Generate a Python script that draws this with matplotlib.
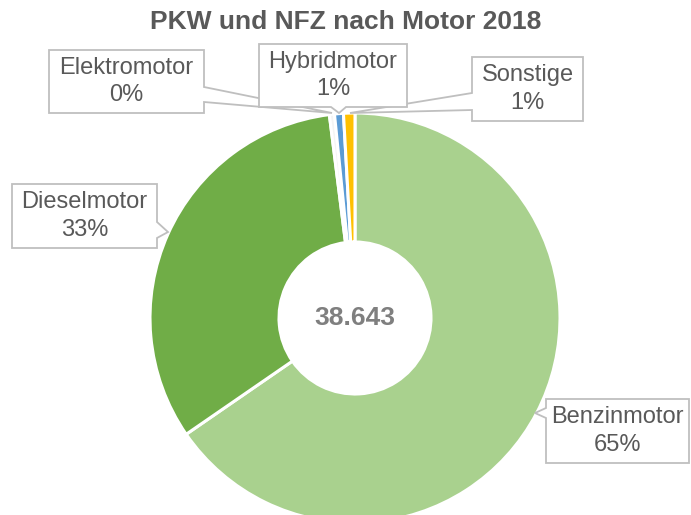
import matplotlib
matplotlib.use("Agg")
import matplotlib.pyplot as plt
from matplotlib.patches import Polygon

# ---- data ----
categories = ["Benzinmotor", "Dieselmotor", "Elektromotor", "Hybridmotor", "Sonstige"]
values = [25273, 12598, 155, 270, 347]
colors = ["#A9D18E", "#70AD47", "#F4F4F4", "#5B9BD5", "#FFC000"]
title = "PKW und NFZ nach Motor 2018"

total = sum(values)
center_label = f"{total:,}".replace(",", ".")
pct_labels = [f"{round(v / total * 100)}%" for v in values]

# ---- layout (pixel coords, origin top-left) ----
W, H = 691, 515
CX, CY, R, HOLE = 355, 318, 205, 76
callouts = {
    "Elektromotor": dict(box=(49, 50, 204, 113), side="right", base=(87, 102), tip=(332, 113), z=3),
    "Sonstige": dict(box=(472, 57, 583, 121), side="left", base=(93, 110), tip=(350, 113), z=3),
    "Hybridmotor": dict(box=(259, 44, 407, 107), side="bottom", base=(331, 346), tip=(339, 113), z=4),
    "Dieselmotor": dict(box=(12, 184, 157, 248), side="right", base=(222, 238), tip=(168, 232), z=3),
    "Benzinmotor": dict(box=(546, 399, 689, 463), side="left", base=(408, 418), tip=(535, 413), z=3),
}

TEXT = "#595959"
EDGE = "#BFBFBF"

plt.rcParams["font.family"] = ["Liberation Sans", "DejaVu Sans"]

fig = plt.figure(figsize=(W / 100, H / 100), dpi=100)
ax = fig.add_axes([0, 0, 1, 1])

ax.pie(values, colors=colors, startangle=90, counterclock=False,
       center=(CX, H - CY), radius=R,
       wedgeprops=dict(width=R - HOLE, edgecolor="white", linewidth=2.2))
ax.set_xlim(0, W)
ax.set_ylim(0, H)
ax.set_aspect("auto")
ax.axis("off")

ax.text(CX, H - CY, center_label, ha="center", va="center",
        fontsize=19, fontweight="bold", color="#7F7F7F")

fig.text(0.5, 1 - 22 / H, title, ha="center", va="center",
         fontsize=19, fontweight="bold", color=TEXT)


def outline(box, side, base, tip):
    x0, y0, x1, y1 = box
    pts = [(x0, y0), (x1, y0)]
    if side == "right":
        pts += [(x1, base[0]), tip, (x1, base[1])]
    pts += [(x1, y1)]
    if side == "bottom":
        pts += [(base[1], y1), tip, (base[0], y1)]
    pts += [(x0, y1)]
    if side == "left":
        pts += [(x0, base[1]), tip, (x0, base[0])]
    return [(x, H - y) for x, y in pts]


for cat, pct in zip(categories, pct_labels):
    c = callouts[cat]
    poly = Polygon(outline(c["box"], c["side"], c["base"], c["tip"]), closed=True,
                   facecolor="white", edgecolor=EDGE, linewidth=1.3,
                   joinstyle="miter", zorder=c["z"])
    ax.add_patch(poly)
    x0, y0, x1, y1 = c["box"]
    ax.text((x0 + x1) / 2, H - (y0 + y1) / 2, f"{cat}\n{pct}", ha="center", va="center",
            fontsize=17, color=TEXT, linespacing=1.3, zorder=c["z"] + 0.5)

fig.savefig("out.png", dpi=100, facecolor="white")
